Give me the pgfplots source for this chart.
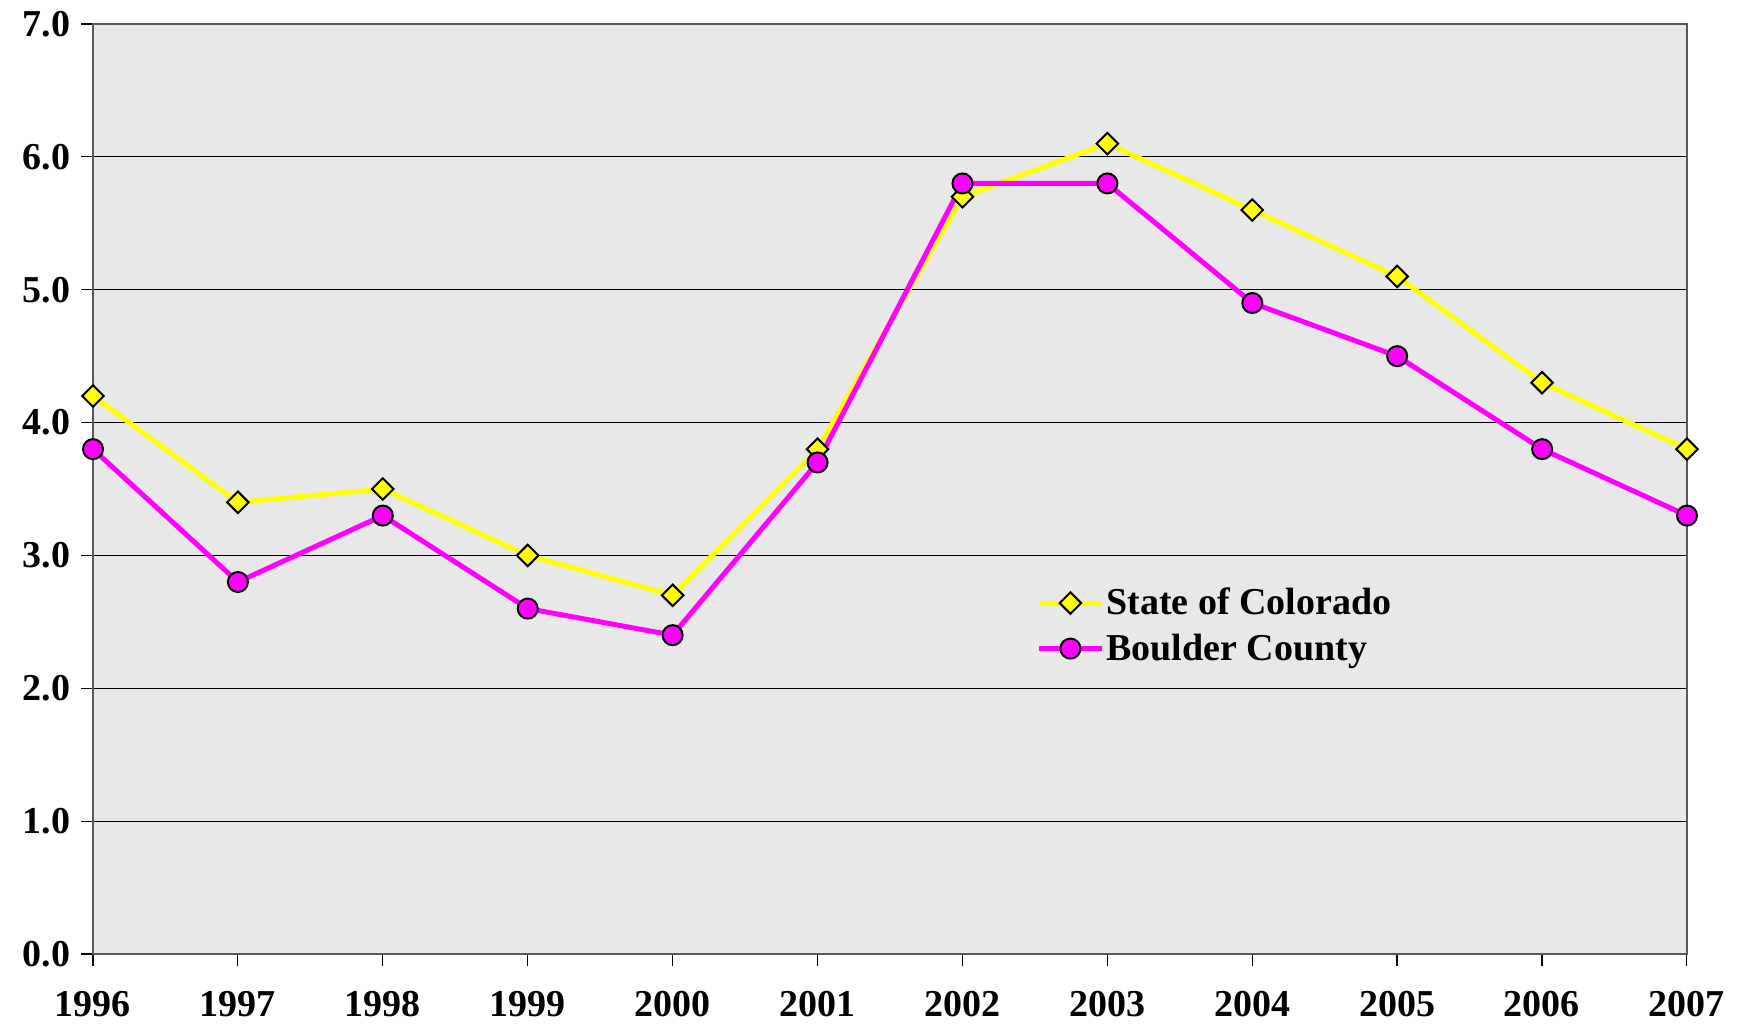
\documentclass[border=0pt]{standalone}
\usepackage{pgfplots}
\pgfplotsset{compat=1.18}
\usepackage{fontspec}
\setmainfont{Liberation Serif}
\definecolor{bg}{RGB}{232,232,232}
\definecolor{yel}{RGB}{255,255,0}
\definecolor{mag}{RGB}{255,0,255}
\begin{document}
\begin{tikzpicture}
\useasboundingbox (-46.5bp,-37.5bp) rectangle (822.5bp,477bp);
\begin{axis}[
  at={(0,0)}, anchor=south west,
  scale only axis, width=797bp, height=465bp,
  xmin=1996, xmax=2007, ymin=0, ymax=7,
  xtick={1996,...,2007}, ytick={0,1,...,7},
  axis background/.style={fill=bg},
  axis line style={draw=gray!70!black, line width=0.8bp},
  ymajorgrids, grid style={black, line width=0.5bp},
  tick align=outside, xtick pos=bottom, ytick pos=left,
  major tick length=6bp,
  tick style={black, line width=0.6bp},
  /pgf/number format/assume math mode=true,
  xticklabel style={/pgf/number format/1000 sep={}, yshift=-9bp},
  yticklabel style={/pgf/number format/fixed, /pgf/number format/fixed zerofill, /pgf/number format/precision=1, xshift=-2bp},
  ticklabel style={font=\fontsize{19bp}{21bp}\selectfont\bfseries},
  clip=false,
  legend style={at={(0.5916,0.353)}, anchor=west, draw=none, fill=none, inner sep=0pt,
    font=\fontsize{19bp}{21bp}\selectfont\bfseries,
    nodes={inner sep=1bp},
    /tikz/row sep=6bp},
  legend cell align=left,
  legend image code/.code={\draw[mark repeat=2,mark phase=2] plot coordinates {(0bp,0bp)(15.75bp,0bp)(31.5bp,0bp)};},
]
\addplot[yel, line width=2.5bp, mark=square*, mark size=3.8bp,
  mark options={fill=yel, draw=black, line width=1bp, rotate=45}]
coordinates {(1996,4.2)(1997,3.4)(1998,3.5)(1999,3.0)(2000,2.7)(2001,3.8)(2002,5.7)(2003,6.1)(2004,5.6)(2005,5.1)(2006,4.3)(2007,3.8)};
\addlegendentry{State of Colorado}
\addplot[mag, line width=2.5bp, mark=*, mark size=5bp,
  mark options={fill=mag, draw=black, line width=1bp}]
coordinates {(1996,3.8)(1997,2.8)(1998,3.3)(1999,2.6)(2000,2.4)(2001,3.7)(2002,5.8)(2003,5.8)(2004,4.9)(2005,4.5)(2006,3.8)(2007,3.3)};
\addlegendentry{Boulder County}
\end{axis}
\end{tikzpicture}
\end{document}
